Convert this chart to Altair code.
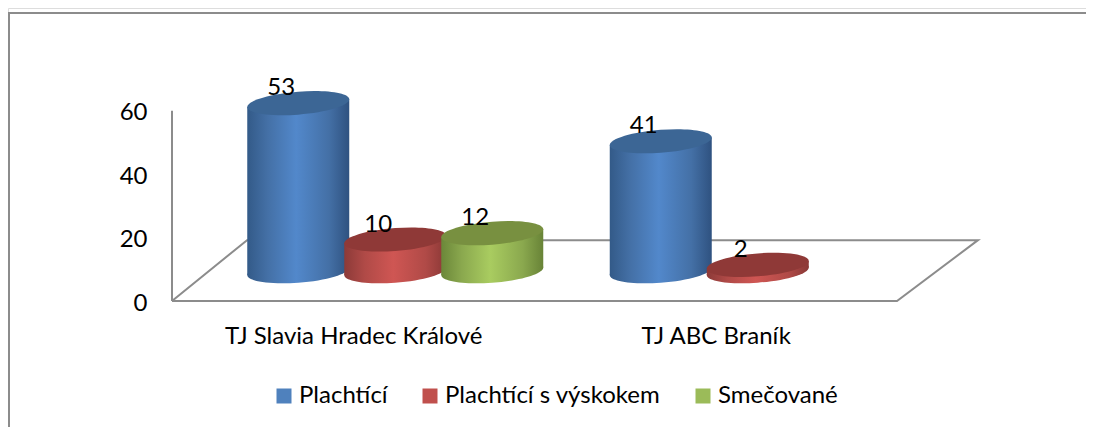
import altair as alt
import pandas as pd

categories = ["TJ Slavia Hradec Králové", "TJ ABC Braník"]
series_names = ["Plachtící", "Plachtící s výskokem", "Smečované"]
plachtici = [53, 41]
plachtici_vyskok = [10, 2]
smecovane = [12, None]
series_values = [plachtici, plachtici_vyskok, smecovane]
legend_colors = ["#4F81BD", "#C0504D", "#9BBB59"]
top_colors = ["#3C6695", "#8F3937", "#789040"]
ramp_colors = [
    ["#335A88", "#4470A6", "#5288CB", "#4470A6", "#2F5280"],
    ["#8C3A38", "#B04A47", "#CF5653", "#B04A47", "#8A3836"],
    ["#6B8739", "#8AA84E", "#A9CC60", "#8AA84E", "#688337"],
]
y_ticks = [0, 20, 40, 60]
floor_x = [0, 2, 2.2234, 0.207, 0]
floor_y = [0, 0, 19.2, 19.2, 0]

W, H = 1078, 419
PX_PER_UNIT = 3.17
ZERO_PX = 293
STEP = 362.5
BASE = 9.4
TILT = 1.2
HALF = 51 / STEP
FONT = "Lato"
FS = 24

x_scale = alt.Scale(domain=[0, 2], range=[164, 889], nice=False, zero=False)
y_scale = alt.Scale(domain=[-(H - ZERO_PX) / PX_PER_UNIT, ZERO_PX / PX_PER_UNIT],
                    nice=False, zero=False)

x_axis = alt.Axis(values=[0.5, 1.5],
                  labelExpr="datum.value < 1 ? '%s' : '%s'" % tuple(categories),
                  domain=False, ticks=False, grid=False, orient="bottom", title=None,
                  offset=ZERO_PX - H, labelPadding=23, labelFont=FONT, labelLimit=0,
                  labelFontSize=FS, labelColor="#000000")
y_axis = alt.Axis(values=y_ticks, domain=False, ticks=False, grid=False, orient="left", title=None,
                  offset=-164, labelPadding=25, labelFont=FONT, labelOffset=2,
                  labelFontSize=FS, labelColor="#000000")

def ex(field):
    return alt.X(field, scale=x_scale, axis=x_axis, title=None)

def ey(field):
    return alt.Y(field, scale=y_scale, axis=y_axis, title=None)

# Sheared ellipse (a cylinder cap seen from a tilted view) in unit symbol coords
k, b, c = 0.075, 0.225, 0.5523
def P(x, y):
    return f"{x:.4f} {y - k * x:.4f}"
cap = (f"M {P(-1, 0)} C {P(-1, -c*b)} {P(-c, -b)} {P(0, -b)} "
       f"C {P(c, -b)} {P(1, -c*b)} {P(1, 0)} "
       f"C {P(1, c*b)} {P(c, b)} {P(0, b)} "
       f"C {P(-c, b)} {P(-1, c*b)} {P(-1, 0)} Z")
CAP_SIZE = 102 ** 2

rows = []
for s, (name, vals) in enumerate(zip(series_names, series_values)):
    for g, v in enumerate(vals):
        if v is None:
            continue
        rows.append({"g": g, "s": s, "series": name, "value": v, "category": categories[g],
                     "center": g + 0.5 + (s * 97 - 55) / STEP,
                     "base": BASE, "top": BASE + v})
df = pd.DataFrame(rows)

edges = pd.concat([df.assign(edge=e) for e in (-1, 1)], ignore_index=True)
edges["ex"] = edges["center"] + edges["edge"] * HALF
edges["ey"] = edges["top"] + edges["edge"] * TILT
edges["ey2"] = edges["base"] + edges["edge"] * TILT

LINE = "#8C8C8C"
floor_df = pd.DataFrame({"fx": floor_x, "fy": floor_y, "i": range(len(floor_x))})
floor = alt.Chart(floor_df).mark_line(color=LINE, strokeWidth=2).encode(
    x=ex("fx:Q"), y=ey("fy:Q"), order="i:Q")
wall = alt.Chart(pd.DataFrame({"wx": [0], "w0": [0], "w1": [60]})).mark_rule(color=LINE, strokeWidth=2).encode(
    x=ex("wx:Q"), y=ey("w0:Q"), y2="w1:Q")

frame_left = alt.Chart(pd.DataFrame({"a": [0]})).mark_rule(color=LINE, strokeWidth=2).encode(
    x=alt.value(1), y=alt.value(4), y2=alt.value(H))
frame_top = alt.Chart(pd.DataFrame({"a": [0]})).mark_rule(color=LINE, strokeWidth=2).encode(
    y=alt.value(5), x=alt.value(0), x2=alt.value(W))

layers = [frame_left, frame_top, floor, wall]

legend_layer = alt.Chart(df).mark_point(filled=True, size=0).encode(
    x=ex("center:Q"), y=ey("top:Q"),
    color=alt.Color("series:N",
                    scale=alt.Scale(domain=series_names, range=legend_colors),
                    legend=alt.Legend(title=None, orient="none", legendX=264, legendY=376,
                                      direction="horizontal", columns=3, columnPadding=30,
                                      symbolType="square", symbolSize=225, symbolStrokeWidth=0,
                                      symbolOpacity=1, labelFont=FONT, labelFontSize=FS,
                                      labelLimit=0, labelColor="#000000", labelOffset=3)))
layers.append(legend_layer)

for s, name in enumerate(series_names):
    stops = [alt.GradientStop(offset=o, color=col)
             for o, col in zip([0, 0.2, 0.48, 0.8, 1], ramp_colors[s])]
    grad = alt.LinearGradient(gradient="linear", stops=stops, x1=0, x2=1, y1=0, y2=0)
    d = df[df.s == s]
    e = edges[edges.s == s]
    body = alt.Chart(e).mark_area(fill=grad, orient="vertical", opacity=1).encode(
        x=ex("ex:Q"), y=ey("ey:Q"), y2="ey2:Q", detail="g:N")
    bottom = alt.Chart(d).mark_point(filled=True, fill=grad, shape=cap, size=CAP_SIZE,
                                     opacity=1, strokeWidth=0).encode(
        x=ex("center:Q"), y=ey("base:Q"))
    top = alt.Chart(d).mark_point(filled=True, fill=top_colors[s], shape=cap, size=CAP_SIZE,
                                  opacity=1, strokeWidth=0).encode(
        x=ex("center:Q"), y=ey("top:Q"))
    layers += [bottom, body, top]

labels = alt.Chart(df).mark_text(font=FONT, fontSize=FS, color="#000000", dx=-17, dy=-15).encode(
    x=ex("center:Q"), y=ey("top:Q"), text="value:Q")
layers.append(labels)

chart = alt.layer(*layers).properties(
    width=W, height=H, padding=0, autosize=alt.AutoSizeParams(type="none")
).configure_view(stroke=None).configure(background="#FFFFFF")

chart.save("out.html", embed_options={"renderer": "svg", "actions": False})
